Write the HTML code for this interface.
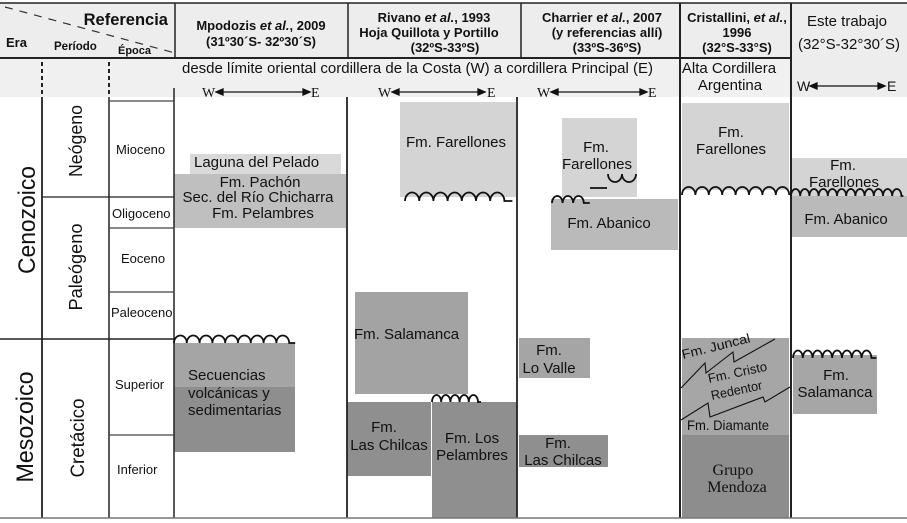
<!DOCTYPE html>
<html><head><meta charset="utf-8">
<style>
html,body{margin:0;padding:0;background:#fff;}
svg{display:block;}
text{font-family:"Liberation Sans",Arial,sans-serif;fill:#111;}
.b{font-weight:bold;}
.s{font-family:"Liberation Serif","Times New Roman",serif;}
</style></head>
<body>
<svg width="907" height="523" viewBox="0 0 907 523" xmlns="http://www.w3.org/2000/svg">
<!-- header backgrounds -->
<rect x="0" y="3" width="907" height="94" fill="#ededed"/>
<rect x="0" y="58" width="791" height="39" fill="#f0f0f0"/>

<!-- boxes col1 -->
<rect x="190" y="154" width="151" height="20" fill="#d9d9d9"/>
<rect x="174" y="174" width="172" height="54" fill="#bfbfbf"/>
<rect x="174" y="343" width="121" height="44" fill="#a5a5a5"/>
<rect x="174" y="387" width="121" height="65" fill="#8e8e8e"/>
<!-- col2 -->
<rect x="400" y="102" width="116" height="95" fill="#d4d4d4"/>
<rect x="355" y="292" width="113" height="102" fill="#a3a3a3"/>
<rect x="347" y="402" width="84" height="74" fill="#8f8f8f"/>
<rect x="432" y="402" width="85" height="116" fill="#8f8f8f"/>
<!-- col3 -->
<rect x="562" y="118" width="75" height="79" fill="#d4d4d4"/>
<rect x="551" y="199" width="127" height="51" fill="#bababa"/>
<rect x="519" y="338" width="71" height="40" fill="#a5a5a5"/>
<rect x="519" y="435" width="89" height="32" fill="#8f8f8f"/>
<!-- col4 -->
<rect x="682" y="103" width="107" height="87" fill="#d4d4d4"/>
<rect x="682" y="338" width="107" height="97" fill="#a6a6a6"/>
<rect x="682" y="435" width="107" height="83" fill="#8d8d8d"/>
<!-- col5 -->
<rect x="792" y="158" width="115" height="38" fill="#d4d4d4"/>
<rect x="792" y="196" width="115" height="41" fill="#bababa"/>
<rect x="793" y="355" width="84" height="59" fill="#a6a6a6"/>

<!-- grid lines -->
<g stroke="#222" fill="none">
<line x1="0" y1="3" x2="907" y2="3" stroke-width="1.5"/>
<line x1="0" y1="58" x2="791" y2="58" stroke-width="2"/>
<line x1="175" y1="3" x2="175" y2="58" stroke-width="1.5"/>
<line x1="348" y1="3" x2="348" y2="58" stroke-width="1.5"/>
<line x1="521" y1="3" x2="521" y2="58" stroke-width="1.5"/>
<line x1="680" y1="3" x2="680" y2="518" stroke-width="2"/>
<line x1="791" y1="3" x2="791" y2="518" stroke-width="2"/>
<line x1="42" y1="97" x2="42" y2="518" stroke-width="1.8"/>
<line x1="109" y1="97" x2="109" y2="518" stroke-width="1.5"/>
<line x1="174" y1="88" x2="174" y2="518" stroke-width="1.5"/>
<line x1="347" y1="97" x2="347" y2="518" stroke-width="1.8"/>
<line x1="517" y1="97" x2="517" y2="518" stroke-width="1.8"/>
<line x1="42" y1="62" x2="42" y2="97" stroke-width="2" stroke-dasharray="4,3"/>
<line x1="109" y1="62" x2="109" y2="97" stroke-width="2" stroke-dasharray="4,3"/>
<line x1="109" y1="101" x2="174" y2="101" stroke-width="1.3" stroke="#444"/>
<line x1="42" y1="197" x2="174" y2="197" stroke-width="1.3"/>
<line x1="109" y1="228" x2="174" y2="228" stroke-width="1.3" stroke="#444"/>
<line x1="109" y1="292" x2="174" y2="292" stroke-width="1.3" stroke="#444"/>
<line x1="0" y1="339" x2="174" y2="339" stroke-width="1.5"/>
<line x1="109" y1="435" x2="174" y2="435" stroke-width="1.3" stroke="#444"/>
<line x1="0" y1="518" x2="907" y2="518" stroke-width="1.5" stroke="#777"/>
<line x1="5" y1="7" x2="175" y2="53" stroke-width="1.2" stroke="#333" stroke-dasharray="8,7"/>
</g>

<!-- wavy unconformities -->
<g stroke="#111" stroke-width="1.8" fill="none">
<path d="M174,343 a6.4,7.5 0 0 1 12.8,0 a6.4,7.5 0 0 1 12.8,0 a6.4,7.5 0 0 1 12.8,0 a6.4,7.5 0 0 1 12.8,0 a6.4,7.5 0 0 1 12.8,0 a6.4,7.5 0 0 1 12.8,0 a6.4,7.5 0 0 1 12.8,0 a6.4,7.5 0 0 1 12.8,0 a6.4,7.5 0 0 1 12.8,0 h6"/>
<path d="M405,201 a7.1,8.5 0 0 1 14.2,0 a7.1,8.5 0 0 1 14.2,0 a7.1,8.5 0 0 1 14.2,0 a7.1,8.5 0 0 1 14.2,0 a7.1,8.5 0 0 1 14.2,0 a7.1,8.5 0 0 1 14.2,0 a7.1,8.5 0 0 1 14.2,0 h8"/>
<path d="M432,402 a4.6,7 0 0 1 9.2,0 a4.6,7 0 0 1 9.2,0 a4.6,7 0 0 1 9.2,0 a4.6,7 0 0 1 9.2,0 a4.6,7 0 0 1 9.2,0 h3"/>
<path d="M552,203 a5.3,7 0 0 1 10.6,0 a5.3,7 0 0 1 10.6,0 a5.3,7 0 0 1 10.6,0 h6"/>
<path d="M590,188 H607"/>
<path d="M608,174 a7,8 0 0 0 14,0 a7,8 0 0 0 14,0"/>
<path d="M682,195 a6.7,8 0 0 1 13.4,0 a6.7,8 0 0 1 13.4,0 a6.7,8 0 0 1 13.4,0 a6.7,8 0 0 1 13.4,0 a6.7,8 0 0 1 13.4,0 a6.7,8 0 0 1 13.4,0 a6.7,8 0 0 1 13.4,0 a6.7,8 0 0 1 13.4,0"/>
<path d="M791,196 a4.6,7 0 0 1 9.2,0 a4.6,7 0 0 1 9.2,0 a4.6,7 0 0 1 9.2,0 a4.6,7 0 0 1 9.2,0 a4.6,7 0 0 1 9.2,0 a4.6,7 0 0 1 9.2,0 a4.6,7 0 0 1 9.2,0 a4.6,7 0 0 1 9.2,0 a4.6,7 0 0 1 9.2,0 a4.6,7 0 0 1 9.2,0 a4.6,7 0 0 1 9.2,0 a4.6,7 0 0 1 9.2,0 h2"/>
<path d="M793,358 a4.9,7.5 0 0 1 9.8,0 a4.9,7.5 0 0 1 9.8,0 a4.9,7.5 0 0 1 9.8,0 a4.9,7.5 0 0 1 9.8,0 a4.9,7.5 0 0 1 9.8,0 a4.9,7.5 0 0 1 9.8,0 a4.9,7.5 0 0 1 9.8,0 a4.9,7.5 0 0 1 9.8,0 h5"/>
</g>
<!-- zigzags -->
<g stroke="#111" stroke-width="1.1" fill="none">
<path d="M681,388 L705,363 L706,373 L733,352 L734,362 L775,339"/>
<path d="M681,420 L708,403 L710,417 L763,397 L765,402 L790,387"/>
</g>

<!-- arrows -->
<g stroke="#111" stroke-width="1.3" fill="#111">
<line x1="220" y1="92" x2="306" y2="92"/>
<path d="M216,92 l7,-3 v6 z"/><path d="M310,92 l-7,-3 v6 z"/>
<line x1="396" y1="92" x2="481" y2="92"/>
<path d="M392,92 l7,-3 v6 z"/><path d="M485,92 l-7,-3 v6 z"/>
<line x1="555" y1="92" x2="643" y2="92"/>
<path d="M551,92 l7,-3 v6 z"/><path d="M647,92 l-7,-3 v6 z"/>
<line x1="814" y1="86" x2="881" y2="86"/>
<path d="M810,86 l7,-3 v6 z"/><path d="M885,86 l-7,-3 v6 z"/>
</g>
<g class="s" font-size="14">
<text class="s" x="202" y="97">W</text><text class="s" x="311" y="97">E</text>
<text class="s" x="378" y="97">W</text><text class="s" x="487" y="97">E</text>
<text class="s" x="537" y="97">W</text><text class="s" x="648" y="97">E</text>
</g>
<text x="797" y="91" font-size="14">W</text><text x="887" y="91" font-size="14">E</text>

<!-- header texts -->
<text class="b" x="168" y="25" font-size="16.5" text-anchor="end">Referencia</text>
<text class="b" x="6" y="47" font-size="13">Era</text>
<text class="b" x="54" y="50" font-size="11.5">Período</text>
<text class="b" x="118" y="54" font-size="11">Época</text>

<g class="b" font-size="13" text-anchor="middle">
<text class="b" x="261" y="30">Mpodozis <tspan font-style="italic">et al.</tspan>, 2009</text>
<text class="b" x="261" y="46">(31º30´S- 32º30´S)</text>
<text class="b" x="434" y="22">Rivano <tspan font-style="italic">et al.</tspan>, 1993</text>
<text class="b" x="429" y="37">Hoja Quillota y Portillo</text>
<text class="b" x="445" y="52">(32ºS-33ºS)</text>
<text class="b" x="602" y="22">Charrier e<tspan font-style="italic">t al.</tspan>, 2007</text>
<text class="b" x="607" y="37">(y referencias allí)</text>
<text class="b" x="607" y="52">(33ºS-36ºS)</text>
<text class="b" x="737" y="22">Cristallini, <tspan font-style="italic">et al.</tspan>,</text>
<text class="b" x="737" y="37">1996</text>
<text class="b" x="737" y="52">(32°S-33°S)</text>
</g>
<text x="847" y="26" font-size="15" text-anchor="middle">Este trabajo</text>
<text x="849" y="49" font-size="15" text-anchor="middle">(32°S-32°30´S)</text>

<text x="182" y="73" font-size="15" textLength="471" lengthAdjust="spacingAndGlyphs">desde límite oriental cordillera de la Costa (W) a cordillera Principal (E)</text>
<text x="729" y="73" font-size="15" text-anchor="middle">Alta Cordillera</text>
<text x="730" y="90" font-size="15" text-anchor="middle">Argentina</text>

<!-- left columns -->
<text transform="translate(35,220) rotate(-90)" font-size="24" text-anchor="middle" textLength="108" lengthAdjust="spacingAndGlyphs">Cenozoico</text>
<text transform="translate(33,427) rotate(-90)" font-size="24" text-anchor="middle" textLength="111" lengthAdjust="spacingAndGlyphs">Mesozoico</text>
<text transform="translate(82,141) rotate(-90)" font-size="18" text-anchor="middle" textLength="72" lengthAdjust="spacingAndGlyphs">Neógeno</text>
<text transform="translate(82,267) rotate(-90)" font-size="18" text-anchor="middle" textLength="87" lengthAdjust="spacingAndGlyphs">Paleógeno</text>
<text transform="translate(84,438) rotate(-90)" font-size="19" text-anchor="middle" textLength="79" lengthAdjust="spacingAndGlyphs">Cretácico</text>

<g font-size="13">
<text x="116" y="154">Mioceno</text>
<text x="112" y="218">Oligoceno</text>
<text x="121" y="263">Eoceno</text>
<text x="111" y="317">Paleoceno</text>
<text x="115" y="389">Superior</text>
<text x="117" y="474">Inferior</text>
</g>

<!-- box texts -->
<g font-size="15">
<text x="194" y="167">Laguna del Pelado</text>
<text x="260" y="187" text-anchor="middle">Fm. Pachón</text>
<text x="258" y="202" text-anchor="middle">Sec. del Río Chicharra</text>
<text x="263" y="218" text-anchor="middle">Fm. Pelambres</text>
<text x="188" y="380">Secuencias</text>
<text x="188" y="398">volcánicas y</text>
<text x="188" y="415">sedimentarias</text>

<text x="406" y="147">Fm. Farellones</text>
<text x="354" y="339">Fm. Salamanca</text>
<text x="384" y="432" text-anchor="middle">Fm.</text>
<text x="389" y="450" text-anchor="middle">Las Chilcas</text>
<text x="472" y="443" text-anchor="middle">Fm. Los</text>
<text x="472" y="460" text-anchor="middle">Pelambres</text>

<text x="596" y="152" text-anchor="middle">Fm.</text>
<text x="597" y="169" text-anchor="middle">Farellones</text>
<text x="609" y="228" text-anchor="middle">Fm. Abanico</text>
<text x="549" y="355" text-anchor="middle">Fm.</text>
<text x="549" y="373" text-anchor="middle">Lo Valle</text>
<text x="558" y="448" text-anchor="middle">Fm.</text>
<text x="563" y="465" text-anchor="middle">Las Chilcas</text>

<text x="731" y="137" text-anchor="middle">Fm.</text>
<text x="731" y="154" text-anchor="middle">Farellones</text>

<text x="843" y="170" text-anchor="middle">Fm.</text>
<text x="844" y="187" text-anchor="middle">Farellones</text>
<text x="846" y="224" text-anchor="middle">Fm. Abanico</text>
<text x="836" y="380" text-anchor="middle">Fm.</text>
<text x="835" y="397" text-anchor="middle">Salamanca</text>
</g>
<g font-size="13">
<text transform="translate(683,359) rotate(-14)" textLength="70" lengthAdjust="spacingAndGlyphs">Fm. Juncal</text>
<text transform="translate(709,383) rotate(-12)" textLength="60" lengthAdjust="spacingAndGlyphs">Fm. Cristo</text>
<text transform="translate(712,400) rotate(-12)" textLength="52" lengthAdjust="spacingAndGlyphs">Redentor</text>
<text x="687" y="430" font-size="14" textLength="82" lengthAdjust="spacingAndGlyphs">Fm. Diamante</text>
</g>
<text class="s" x="733" y="475" font-size="16" text-anchor="middle">Grupo</text>
<text class="s" x="737" y="492" font-size="16" text-anchor="middle">Mendoza</text>
</svg>
</body></html>
